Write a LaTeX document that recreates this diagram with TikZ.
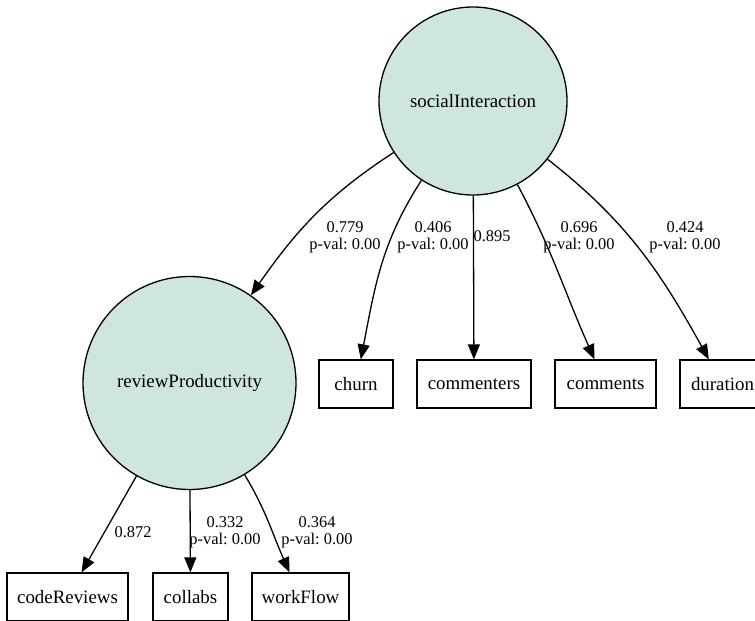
\documentclass[tikz,border=0pt]{standalone}
\usepackage{fontspec}
\setmainfont{Liberation Serif}
\usetikzlibrary{arrows.meta}
\definecolor{latentfill}{RGB}{207,229,223}
\frenchspacing

\begin{document}
\begin{tikzpicture}[x = 0.5pt, y = 0.5pt, line width = 0.65pt,
        >={Triangle[length=7.5pt, width=6pt]},
        every node/.style = {font=\fontsize{9.45}{11}\selectfont},
        latent/.style = {circle, draw, fill=latentfill, inner sep=0pt},
        observed/.style = {rectangle, draw, minimum height=24pt, inner sep=0pt},
        lbl/.style = {align=center, inner sep=0pt, font=\fontsize{8.2}{8.65}\selectfont}]
        \useasboundingbox (0, 0) rectangle (755, -621);
        \clip (0, 0) rectangle (755, -621);

        \node (si) [latent, minimum size=94pt] at (473, -101) {socialInteraction};
        \node (rp) [latent, minimum size=106.5pt] at (189.5, -383) {reviewProductivity};

        \node (churn) [observed, minimum width=37pt] at (356, -384) {churn};
        \node (cmtrs) [observed, minimum width=57pt] at (474, -384) {commenters};
        \node (cmts) [observed, minimum width=50.5pt] at (605.5, -384) {comments};
        \node (dur) [observed, minimum width=42.5pt] at (722.5, -384) {duration};
        \node (codeRev) [observed, minimum width=60.5pt] at (67.5, -597) {codeReviews};
        \node (collabs) [observed, minimum width=37.5pt] at (190.5, -597) {collabs};
        \node (workFlow) [observed, minimum width=48.5pt] at (300.5, -597) {workFlow};

        \draw[->] (si) to [out=213, in=55] (rp);
        \draw[->] (si) to [out=237, in=79] (churn);
        \draw[->] (si) -- (cmtrs);
        \draw[->] (si) to [out=-62, in=114] (cmts);
        \draw[->] (si) to [out=-38, in=119] (dur);
        \draw[->] (rp) -- (codeRev);
        \draw[->] (rp) -- (collabs);
        \draw[->] (rp) to [out=-59, in=114] (workFlow);

        \node (l1) [lbl] at (345, -237) {0.779\\p-val: 0.00};
        \node (l2) [lbl] at (433, -237) {0.406\\p-val: 0.00};
        \node (l3) [lbl] at (492, -236) {0.895};
        \node (l4) [lbl] at (579, -237) {0.696\\p-val: 0.00};
        \node (l5) [lbl] at (685, -237) {0.424\\p-val: 0.00};
        \node (l6) [lbl] at (133, -532) {0.872};
        \node (l7) [lbl] at (225, -532) {0.332\\p-val: 0.00};
        \node (l8) [lbl] at (317, -532) {0.364\\p-val: 0.00};
    \end{tikzpicture}
\end{document}
